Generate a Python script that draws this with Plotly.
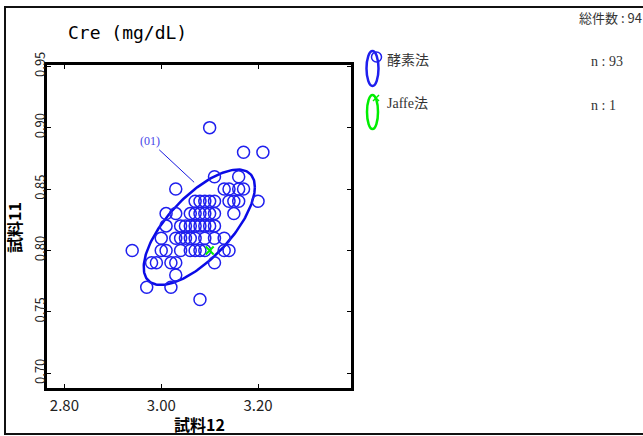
import numpy as np
import plotly.graph_objects as go

# ---- data ----
enzyme_x = [3.10,
            3.17, 3.21,
            3.11, 3.16,
            3.03, 3.13, 3.14, 3.16, 3.17,
            3.07, 3.08, 3.09, 3.10, 3.11, 3.14, 3.15, 3.16, 3.20,
            3.01, 3.03, 3.06, 3.07, 3.08, 3.09, 3.10, 3.11, 3.15,
            3.01, 3.04, 3.05, 3.06, 3.07, 3.08, 3.09, 3.10, 3.11,
            3.00, 3.03, 3.04, 3.05, 3.06, 3.07, 3.09, 3.11, 3.13,
            2.94, 3.00, 3.01, 3.04, 3.06, 3.07, 3.08, 3.09, 3.13, 3.14,
            2.98, 2.99, 3.02, 3.03, 3.11,
            3.03,
            2.97, 3.02,
            3.08]
enzyme_y = [0.90,
            0.88, 0.88,
            0.86, 0.86,
            0.85, 0.85, 0.85, 0.85, 0.85,
            0.84, 0.84, 0.84, 0.84, 0.84, 0.84, 0.84, 0.84, 0.84,
            0.83, 0.83, 0.83, 0.83, 0.83, 0.83, 0.83, 0.83, 0.83,
            0.82, 0.82, 0.82, 0.82, 0.82, 0.82, 0.82, 0.82, 0.82,
            0.81, 0.81, 0.81, 0.81, 0.81, 0.81, 0.81, 0.81, 0.81,
            0.80, 0.80, 0.80, 0.80, 0.80, 0.80, 0.80, 0.80, 0.80, 0.80,
            0.79, 0.79, 0.79, 0.79, 0.79,
            0.78,
            0.77, 0.77,
            0.76]
jaffe_x = [3.10]
jaffe_y = [0.80]

# ellipse for the enzyme group (centre, half extents, correlation)
ell_cx, ell_cy = 3.0786, 0.8189
ell_sx, ell_sy = 0.1148, 0.0470
ell_rho = 0.695

x_tickvals = [2.80, 3.00, 3.20]
x_ticktext = ["2.80", "3.00", "3.20"]
y_tickvals = [0.70, 0.75, 0.80, 0.85, 0.90, 0.95]
y_ticktext = ["0.70", "0.75", "0.80", "0.85", "0.90", "0.95"]

title_text = "Cre (mg/dL)"
x_title = "試料12"
y_title = "試料11"
total_text = "総件数 : 94"
legend_names = ["酵素法", "Jaffe法"]
legend_counts = ["n : 93", "n : 1"]
label_text = "(01)"

# ---- layout geometry ----
W, H = 643, 436
L, R, T, B = 47, 351, 65, 388
pw, ph = R - L, B - T

def px(x):
    return (x - L) / pw

def py(y):
    return (B - y) / ph

BLUE = "#1f1fee"
GREEN = "#00ee00"
GOTHIC = "Noto Sans CJK JP"
SERIF = "Liberation Serif, Noto Sans CJK JP"

fig = go.Figure()

t = np.linspace(0, 2 * np.pi, 200)
ex = ell_cx + ell_sx * np.cos(t)
ey = ell_cy + ell_sy * (ell_rho * np.cos(t) + np.sqrt(1 - ell_rho ** 2) * np.sin(t))
fig.add_trace(go.Scatter(x=ex, y=ey, mode="lines",
                         line=dict(color="#0a0ae6", width=2.5),
                         hoverinfo="skip", showlegend=False))

fig.add_trace(go.Scatter(x=enzyme_x, y=enzyme_y, mode="markers",
                         marker=dict(symbol="circle-open", size=12,
                                     color=BLUE, line=dict(width=1.5, color=BLUE)),
                         showlegend=False))
fig.add_trace(go.Scatter(x=jaffe_x, y=jaffe_y, mode="markers",
                         marker=dict(symbol="x-thin-open", size=8,
                                     color=GREEN, line=dict(width=2, color=GREEN)),
                         showlegend=False))

axis_common = dict(showline=True, linewidth=2.5, linecolor="black", mirror="ticks",
                   ticks="inside", ticklen=4, tickwidth=1, tickcolor="black",
                   showgrid=False, zeroline=False)

fig.update_layout(
    width=W, height=H,
    margin=dict(l=L, r=W - R, t=T, b=H - B, pad=0),
    paper_bgcolor="white", plot_bgcolor="white",
    xaxis=dict(range=[2.764, 3.392], tickvals=x_tickvals, ticktext=x_ticktext,
               ticklabelstandoff=2,
               tickfont=dict(family=GOTHIC, size=15, color="#222"), **axis_common),
    yaxis=dict(range=[0.688, 0.951], tickvals=y_tickvals, ticktext=y_ticktext,
               tickangle=-90, ticklabelstandoff=-6,
               tickfont=dict(family=GOTHIC, size=13, color="#222"), **axis_common),
    showlegend=False,
)

ann = []
ann.append(dict(xref="paper", yref="paper", x=px(66), y=py(33), xanchor="left", yanchor="middle",
                text=title_text, showarrow=False,
                font=dict(family="DejaVu Sans Mono", size=18, color="black")))
ann.append(dict(xref="paper", yref="paper", x=px(199), y=py(424), xanchor="center", yanchor="middle",
                text="<b>" + x_title + "</b>", showarrow=False,
                font=dict(family=GOTHIC, size=16, color="black")))
ann.append(dict(xref="paper", yref="paper", x=px(14), y=py(228), xanchor="center", yanchor="middle",
                text="<b>" + y_title + "</b>", showarrow=False, textangle=-90,
                font=dict(family=GOTHIC, size=16, color="black")))
ann.append(dict(xref="paper", yref="paper", x=px(577), y=py(17), xanchor="left", yanchor="middle",
                text=total_text, showarrow=False,
                font=dict(family=GOTHIC, size=13, color="#333")))
for i, (nm, cnt) in enumerate(zip(legend_names, legend_counts)):
    yy = 60 + 44 * i
    ann.append(dict(xref="paper", yref="paper", x=px(385), y=py(yy), xanchor="left", yanchor="middle",
                    text=nm, showarrow=False, font=dict(family=SERIF, size=14, color="#333")))
    ann.append(dict(xref="paper", yref="paper", x=px(589), y=py(yy + 1), xanchor="left", yanchor="middle",
                    text=cnt, showarrow=False, font=dict(family=SERIF, size=14, color="#333")))
# label with leader line
ann.append(dict(xref="x", yref="y", x=3.0679, y=0.8555, ax=-44, ay=-41,
                text=label_text, showarrow=True, arrowhead=0, arrowwidth=1,
                arrowcolor="#1a1ae0", standoff=0,
                font=dict(family=SERIF, size=12, color="#4646e8")))
fig.update_layout(annotations=ann)

shapes = []
# outer frame
shapes.append(dict(type="rect", xref="paper", yref="paper",
                   x0=px(5), x1=px(660), y0=py(434), y1=py(7),
                   line=dict(color="#111", width=2)))
# legend icons
shapes.append(dict(type="circle", xref="paper", yref="paper",
                   x0=px(366.5), x1=px(378.5), y0=py(86), y1=py(51),
                   line=dict(color=BLUE, width=2.5)))
shapes.append(dict(type="circle", xref="paper", yref="paper",
                   x0=px(371.5), x1=px(381.5), y0=py(62), y1=py(52),
                   line=dict(color=BLUE, width=1.5)))
shapes.append(dict(type="circle", xref="paper", yref="paper",
                   x0=px(367), x1=px(378), y0=py(129), y1=py(95),
                   line=dict(color=GREEN, width=2.5)))
shapes.append(dict(type="line", xref="paper", yref="paper",
                   x0=px(373), x1=px(379), y0=py(95), y1=py(101),
                   line=dict(color=GREEN, width=1.5)))
shapes.append(dict(type="line", xref="paper", yref="paper",
                   x0=px(373), x1=px(379), y0=py(101), y1=py(95),
                   line=dict(color=GREEN, width=1.5)))
fig.update_layout(shapes=shapes)

fig.write_html("out.html", config={"displayModeBar": False},
               post_script="document.body.style.margin='0';document.body.style.overflow='hidden';")
